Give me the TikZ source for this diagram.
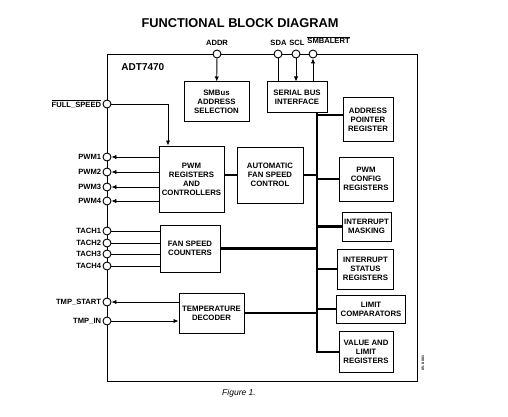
\documentclass[tikz,border=0pt]{standalone}
\usepackage{fontspec}
\setmainfont{Liberation Sans}
\usetikzlibrary{arrows.meta}

\begin{document}
\begin{tikzpicture}[x=1pt,y=-1pt,line width=0.9pt]
\tikzstyle{blk}=[draw,line width=1pt,align=center,inner sep=0pt,font=\fontsize{7.8}{9}\selectfont\bfseries]
\tikzstyle{pin}=[draw,circle,fill=white,minimum size=8pt,inner sep=0pt,line width=0.9pt]
\tikzstyle{lbl}=[font=\fontsize{7.6}{9}\selectfont\bfseries,inner sep=1pt]
\tikzstyle{bus}=[line width=2.8pt]
\tikzstyle{sig}=[-{Latex[length=5pt,width=4.5pt]}]
\useasboundingbox (0,0) rectangle (508,417);
\node[font=\fontsize{12.8}{14}\selectfont\bfseries] (title) at (240,23) {FUNCTIONAL BLOCK DIAGRAM};
% chip outline
\draw (107,54) rectangle (417,381);
\node[lbl,font=\fontsize{10}{12}\selectfont\bfseries,anchor=west] (chip) at (120,67) {ADT7470};
% blocks
\node[blk,minimum width=65pt,minimum height=39pt] (smbus) at (216.5,101.5) {SMBus\\ADDRESS\\SELECTION};
\node[blk,minimum width=60pt,minimum height=31pt] (serial) at (297,97.5) {SERIAL BUS\\INTERFACE};
\node[blk,minimum width=50pt,minimum height=43pt] (addrptr) at (368,119.5) {ADDRESS\\POINTER\\REGISTER};
\node[blk,minimum width=54pt,minimum height=44pt] (pwmcfg) at (366,179) {PWM\\CONFIG\\REGISTERS};
\node[blk,minimum width=66pt,minimum height=56pt] (auto) at (270,175) {AUTOMATIC\\FAN SPEED\\CONTROL};
\node[blk,minimum width=65pt,minimum height=66pt] (pwmreg) at (191.5,179) {PWM\\REGISTERS\\AND\\CONTROLLERS};
\node[blk,minimum width=60pt,minimum height=47pt] (fanspeed) at (190,248.5) {FAN SPEED\\COUNTERS};
\node[blk,minimum width=49pt,minimum height=29pt] (intmask) at (366.5,226.5) {INTERRUPT\\MASKING};
\node[blk,minimum width=56pt,minimum height=40pt] (intstat) at (365.5,269) {INTERRUPT\\STATUS\\REGISTERS};
\node[blk,minimum width=69pt,minimum height=28pt] (limcmp) at (371,309) {LIMIT\\COMPARATORS};
\node[blk,minimum width=54pt,minimum height=41pt] (valreg) at (366,352) {VALUE AND\\LIMIT\\REGISTERS};
\node[blk,minimum width=65pt,minimum height=40pt] (tempdec) at (211.5,313) {TEMPERATURE\\DECODER};
% top pins
\node[pin] (addr) at (217,54) {};
\node[pin] (sda) at (278,54) {};
\node[pin] (scl) at (296,54) {};
\node[pin] (alert) at (313,54) {};
\node[lbl,anchor=base] (addrlbl) at (217,45.5) {ADDR};
\node[lbl,anchor=base] (sdalbl) at (278.5,45.5) {SDA};
\node[lbl,anchor=base] (scllbl) at (297,45.5) {SCL};
\node[lbl,anchor=base west] (alertlbl) at (306,44) {$\overline{\mbox{SMBALERT}}$};
% left pins
\node[pin,label={[lbl,name=lfull]left:$\overline{\mbox{FULL\_SPEED}}$}] (full) at (107,104) {};
\foreach \n/\y/\t in {pwma/157/PWM1,pwmb/172/PWM2,pwmc/187/PWM3,pwmd/201/PWM4,tacha/231/TACH1,tachb/243/TACH2,tachc/254/TACH3,tachd/266/TACH4,tstart/302/TMP\_START,tin/321/TMP\_IN}
  \node[pin,label={[lbl,name=l\n]left:\t}] (\n) at (107,\y) {};
% signals
\draw[sig] (full) -| ([xshift=-23.5pt]pwmreg.north);
\foreach \n in {pwma,pwmb,pwmc,pwmd}
  \draw[sig] (pwmreg.west |- \n) -- (\n);
\foreach \n in {tacha,tachb,tachc,tachd}
  \draw (\n) -- (fanspeed.west |- \n);
\draw[sig] (tempdec.west |- tstart) -- (tstart);
\draw[sig] (tin) -- (tempdec.west |- tin);
\draw[sig] (addr) -- (smbus);
\draw (sda) -- (sda |- serial.north);
\draw[sig] (scl) -- (scl |- serial.north);
\draw[sig] (alert |- serial.north) -- (alert);
% internal bus
\coordinate (bus) at (317,113);
\draw[bus] (bus) -- (bus |- valreg.west) -- (valreg.west);
\draw[bus] ([yshift=4.5pt]addrptr.west) -- ([yshift=4.5pt]addrptr.west -| bus);
\foreach \b in {pwmcfg,intmask,intstat,limcmp}
  \draw[bus] (\b.west) -- (\b.west -| bus);
\draw[bus] (auto.east) -- (auto.east -| bus);
\draw[bus] (fanspeed.east) -- (fanspeed.east -| bus);
\draw[bus] (tempdec.east) -- (tempdec.east -| bus);
\draw[bus] (pwmreg.east |- auto.west) -- (auto.west);
\node[font=\fontsize{8.5}{10}\selectfont\itshape] (caption) at (239,393) {Figure 1.};
\node[rotate=90,font=\fontsize{3.5}{4}\selectfont\bfseries] (figno) at (423,363) {05-0-001};
\end{tikzpicture}
\end{document}
